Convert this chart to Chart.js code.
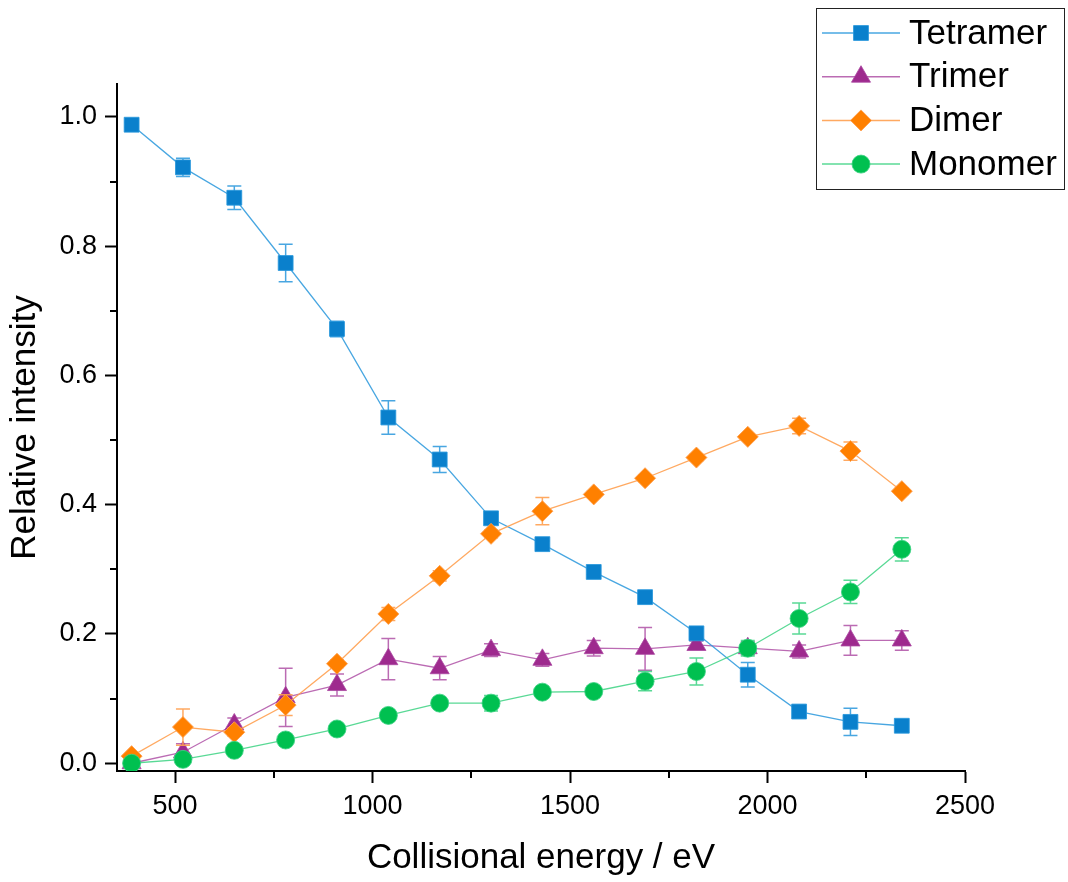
<!DOCTYPE html>
<html>
<head>
<meta charset="utf-8">
<title>Relative intensity vs collisional energy</title>
<script src="https://cdn.jsdelivr.net/npm/chart.js@4.4.1/dist/chart.umd.min.js"></script>
<style>
  html, body { margin: 0; padding: 0; background: #fff; }
  canvas { display: block; }
</style>
</head>
<body>
<canvas id="energyChart" width="1068" height="882"></canvas>
<script>
// collisional energy (eV) of each measurement
const energies = [390, 520, 650, 780, 910, 1040, 1170, 1300, 1430, 1560, 1690, 1820, 1950, 2080, 2210, 2340];

// relative intensities
const tetramer = [0.988, 0.922, 0.875, 0.774, 0.672, 0.535, 0.470, 0.379, 0.339, 0.296, 0.257, 0.201, 0.137, 0.080, 0.064, 0.058];
const tetramerErr = [0.004, 0.014, 0.018, 0.029, 0.012, 0.026, 0.020, 0.006, 0.005, 0.004, 0.005, 0.008, 0.019, 0.005, 0.021, 0.004];

const trimer = [0.000, 0.017, 0.060, 0.102, 0.121, 0.161, 0.147, 0.175, 0.160, 0.178, 0.177, 0.183, 0.178, 0.173, 0.190, 0.190];
const trimerErr = [0.004, 0.013, 0.010, 0.045, 0.017, 0.032, 0.018, 0.010, 0.010, 0.012, 0.033, 0.006, 0.010, 0.010, 0.023, 0.015];

const dimer = [0.011, 0.056, 0.048, 0.090, 0.154, 0.231, 0.290, 0.355, 0.390, 0.416, 0.441, 0.473, 0.505, 0.522, 0.483, 0.421];
const dimerErr = [0.004, 0.028, 0.006, 0.016, 0.006, 0.010, 0.008, 0.006, 0.021, 0.005, 0.005, 0.005, 0.005, 0.012, 0.014, 0.005];

const monomer = [0.000, 0.006, 0.020, 0.036, 0.053, 0.074, 0.093, 0.093, 0.110, 0.111, 0.127, 0.142, 0.178, 0.224, 0.265, 0.331];
const monomerErr = [0.002, 0.004, 0.004, 0.004, 0.004, 0.005, 0.005, 0.012, 0.005, 0.005, 0.015, 0.021, 0.012, 0.024, 0.018, 0.018];

// axis ticks
const xMajorTicks = [500, 1000, 1500, 2000, 2500];
const xMinorTicks = [750, 1250, 1750, 2250];
const yMajorTicks = [0, 0.2, 0.4, 0.6, 0.8, 1.0];
const yMinorTicks = [0.1, 0.3, 0.5, 0.7, 0.9];

const FONT = '"Liberation Sans", Arial, sans-serif';

function toPoints(values) {
    return energies.map((x, i) => ({ x: x, y: values[i] }));
}

function makeDataset(label, values, errors, color, lineColor, style, radius, order) {
    return {
        label: label,
        data: toPoints(values),
        errors: errors,
        errorColor: lineColor,
        borderColor: lineColor,
        borderWidth: 1.3,
        pointStyle: style,
        pointRadius: radius,
        pointHoverRadius: radius,
        pointBackgroundColor: color,
        pointBorderColor: lineColor,
        pointBorderWidth: 1,
        tension: 0,
        order: order
    };
}

// error bars, drawn just before each dataset so markers sit on top
const errorBars = {
    id: 'errorBars',
    beforeDatasetDraw(chart, args) {
        const ds = chart.data.datasets[args.index];
        if (!ds.errors) return;
        const xs = chart.scales.x, ys = chart.scales.y, ctx = chart.ctx;
        const area = chart.chartArea;
        ctx.save();
        ctx.beginPath();
        ctx.rect(area.left, area.top, area.right - area.left, area.bottom - area.top);
        ctx.clip();
        ctx.strokeStyle = ds.errorColor;
        ctx.lineWidth = 1.5;
        ds.data.forEach((p, i) => {
            const e = ds.errors[i];
            const px = xs.getPixelForValue(p.x);
            const top = ys.getPixelForValue(p.y + e);
            const bottom = ys.getPixelForValue(p.y - e);
            ctx.beginPath();
            ctx.moveTo(px, top); ctx.lineTo(px, bottom);
            ctx.moveTo(px - 7, top); ctx.lineTo(px + 7, top);
            ctx.moveTo(px - 7, bottom); ctx.lineTo(px + 7, bottom);
            ctx.stroke();
        });
        ctx.restore();
    }
};

// short minor ticks outside the axes
const minorTicks = {
    id: 'minorTicks',
    afterDraw(chart) {
        const xs = chart.scales.x, ys = chart.scales.y, ctx = chart.ctx;
        const area = chart.chartArea;
        ctx.save();
        ctx.strokeStyle = '#000';
        ctx.lineWidth = 2;
        ctx.beginPath();
        xMinorTicks.forEach(v => {
            const px = Math.round(xs.getPixelForValue(v));
            ctx.moveTo(px, area.bottom);
            ctx.lineTo(px, area.bottom + 7);
        });
        yMinorTicks.forEach(v => {
            const py = Math.round(ys.getPixelForValue(v));
            ctx.moveTo(area.left, py);
            ctx.lineTo(area.left - 7, py);
        });
        ctx.stroke();
        ctx.restore();
    }
};

// boxed legend in the top right corner
const boxLegend = {
    id: 'boxLegend',
    afterDraw(chart) {
        const ctx = chart.ctx;
        ctx.save();
        ctx.strokeStyle = '#222';
        ctx.lineWidth = 1;
        ctx.strokeRect(816.5, 8.5, 248, 181);
        chart.data.datasets.forEach((ds, i) => {
            const cy = 33 + i * 43.7;
            ctx.strokeStyle = ds.borderColor;
            ctx.lineWidth = 1.5;
            ctx.beginPath();
            ctx.moveTo(822, cy);
            ctx.lineTo(900, cy);
            ctx.stroke();
            ctx.fillStyle = ds.pointBackgroundColor;
            ctx.strokeStyle = ds.pointBorderColor;
            ctx.lineWidth = 1;
            Chart.helpers.drawPoint(ctx, {
                pointStyle: ds.pointStyle,
                radius: ds.pointRadius,
                borderWidth: 1,
                rotation: 0
            }, 861, cy);
            ctx.fillStyle = '#000';
            ctx.font = '35px ' + FONT;
            ctx.textAlign = 'left';
            ctx.textBaseline = 'middle';
            ctx.fillText(ds.label, 909, cy + 1);
        });
        ctx.restore();
    }
};

const ctx = document.getElementById('energyChart').getContext('2d');
const energyChart = new Chart(ctx, {
    type: 'line',
    data: {
        datasets: [
            makeDataset('Tetramer', tetramer, tetramerErr, '#0A80CC', 'rgba(40,150,220,0.85)', 'rect', 10.5, 2),
            makeDataset('Trimer', trimer, trimerErr, '#9E2A8E', 'rgba(170,70,160,0.8)', 'triangle', 11, 3),
            makeDataset('Dimer', dimer, dimerErr, '#FF8000', 'rgba(255,160,80,0.9)', 'rectRot', 10.5, 1),
            makeDataset('Monomer', monomer, monomerErr, '#00C050', 'rgba(60,210,130,0.85)', 'circle', 9, 0)
        ]
    },
    options: {
        responsive: false,
        animation: false,
        layout: {
            padding: { top: 84, right: 103, left: 0, bottom: 0 }
        },
        plugins: {
            legend: { display: false },
            tooltip: { enabled: false }
        },
        scales: {
            x: {
                type: 'linear',
                min: 353,
                max: 2500,
                afterFit: function (scale) { scale.height = 111; },
                afterBuildTicks: function (scale) {
                    scale.ticks = xMajorTicks.map(v => ({ value: v }));
                },
                border: { display: true, color: '#000', width: 2 },
                grid: {
                    drawOnChartArea: false,
                    drawTicks: true,
                    tickLength: 12,
                    tickWidth: 2,
                    tickColor: '#000'
                },
                ticks: {
                    autoSkip: false,
                    maxRotation: 0,
                    padding: 7,
                    color: '#000',
                    font: { size: 27, family: FONT },
                    callback: function (value) { return String(value); }
                },
                title: {
                    display: true,
                    text: 'Collisional energy / eV',
                    color: '#000',
                    padding: { top: 0, bottom: 3 },
                    font: { size: 35, family: FONT }
                }
            },
            y: {
                type: 'linear',
                min: -0.012,
                max: 1.051,
                afterFit: function (scale) { scale.width = 117; },
                afterBuildTicks: function (scale) {
                    scale.ticks = yMajorTicks.map(v => ({ value: v }));
                },
                border: { display: true, color: '#000', width: 2 },
                grid: {
                    drawOnChartArea: false,
                    drawTicks: true,
                    tickLength: 12,
                    tickWidth: 2,
                    tickColor: '#000'
                },
                ticks: {
                    autoSkip: false,
                    padding: 8,
                    color: '#000',
                    font: { size: 27, family: FONT },
                    callback: function (value) { return value.toFixed(1); }
                },
                title: {
                    display: true,
                    text: 'Relative intensity',
                    color: '#000',
                    padding: { top: 4, bottom: 0 },
                    font: { size: 35, family: FONT }
                }
            }
        }
    },
    plugins: [errorBars, minorTicks, boxLegend]
});
</script>
</body>
</html>
